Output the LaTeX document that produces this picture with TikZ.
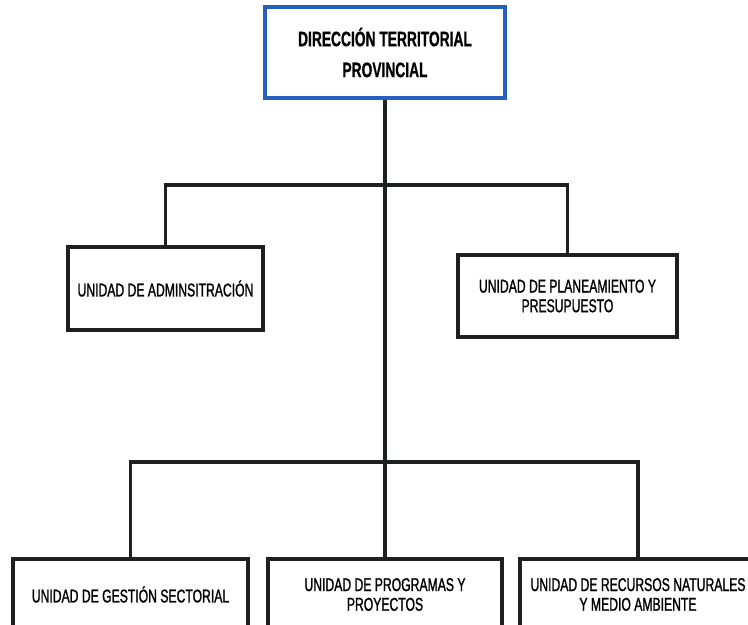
\documentclass[tikz,border=0pt]{standalone}
\usepackage{fontspec}
\usepackage{tikz}
\usetikzlibrary{positioning, calc}
\newfontfamily\orgfont{Liberation Sans}[FakeStretch=0.66, FakeBold=1.2]
\newfontfamily\dirfont{Liberation Sans Bold}[FakeStretch=0.66, FakeBold=0.8]
\definecolor{dirblue}{RGB}{38,96,190}
\definecolor{linegray}{RGB}{30,32,32}
\tikzset{
  unitbox/.style={
    draw=linegray,
    line width=1.8pt,
    align=center,
    inner sep=2pt,
    font=\orgfont\fontsize{10.5}{11.2}\selectfont
  },
  dirbox/.style={
    draw=dirblue,
    line width=2.2pt,
    align=center,
    inner sep=2pt,
    font=\dirfont\fontsize{11.9}{17.6}\selectfont
  },
  link/.style={draw=linegray, line width=1.8pt},
  trunk/.style={draw=linegray, line width=2.3pt}
}

\begin{document}
\begin{tikzpicture}[x=0.02cm, y=-0.02cm]
\useasboundingbox (0,0) rectangle (748,625);
\clip (0,0) rectangle (748,625);

\node[dirbox, minimum width=4.8cm, minimum height=1.82cm] (dir) at (385,52.5)
{DIRECCIÓN TERRITORIAL\\PROVINCIAL};

\node[unitbox, minimum width=3.9cm, minimum height=1.66cm] (admin) at (165.5,288.5)
{UNIDAD DE ADMINSITRACIÓN};

\node[unitbox, minimum width=4.38cm, minimum height=1.64cm] (plan) at (567.5,296)
{UNIDAD DE PLANEAMIENTO Y\\PRESUPUESTO};

\node[unitbox, minimum width=4.7cm, minimum height=1.42cm] (gest) at (130.5,594.5)
{UNIDAD DE GESTIÓN SECTORIAL};

\node[unitbox, minimum width=4.68cm, minimum height=1.42cm] (prog) at (385,594.5)
{UNIDAD DE PROGRAMAS Y\\PROYECTOS};

\node[unitbox, minimum width=4.72cm, minimum height=1.42cm] (rec) at (638,594.5)
{UNIDAD DE RECURSOS NATURALES\\Y MEDIO AMBIENTE};

\coordinate (bar1) at (0,185);
\coordinate (bar2) at (0,462);

\draw[trunk] (dir.south) -- (prog.north);

\draw[link] (admin.north) -- (admin.north |- bar1) -- (plan.north |- bar1) -- (plan.north);
\draw[link] (gest.north) -- (gest.north |- bar2) -- (rec.north |- bar2) -- (rec.north);
\end{tikzpicture}
\end{document}
